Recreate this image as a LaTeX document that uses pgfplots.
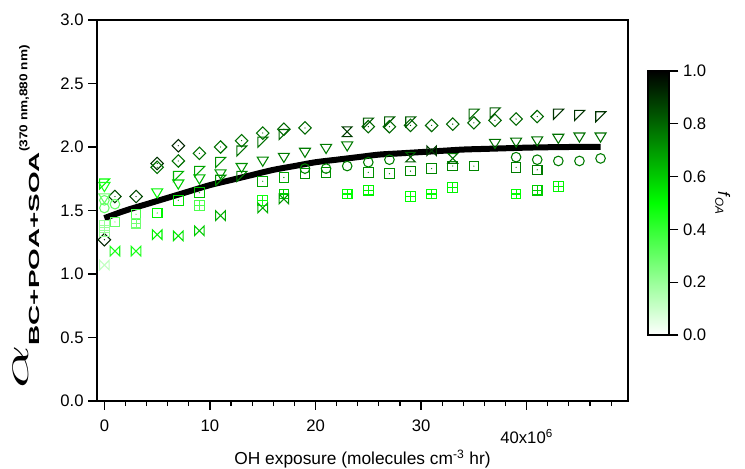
\documentclass[border=0pt]{standalone}
\usepackage{fontspec}
\setmainfont{Liberation Sans}
\usepackage{graphicx}
\usepackage{pgfplots}
\pgfplotsset{compat=1.18}

% open marks of the figure
\pgfdeclareplotmark{ddiamond}{%
  \pgfpathmoveto{\pgfqpoint{0pt}{1.3\pgfplotmarksize}}%
  \pgfpathlineto{\pgfqpoint{1.3\pgfplotmarksize}{0pt}}%
  \pgfpathlineto{\pgfqpoint{0pt}{-1.3\pgfplotmarksize}}%
  \pgfpathlineto{\pgfqpoint{-1.3\pgfplotmarksize}{0pt}}%
  \pgfpathclose\pgfusepathqstroke
  \pgfpathcircle{\pgfpointorigin}{0.5pt}\pgfusepathqfill}
\pgfdeclareplotmark{dsquare}{%
  \pgfpathrectangle{\pgfqpoint{-\pgfplotmarksize}{-\pgfplotmarksize}}{\pgfqpoint{2\pgfplotmarksize}{2\pgfplotmarksize}}%
  \pgfusepathqstroke
  \pgfpathcircle{\pgfpointorigin}{0.5pt}\pgfusepathqfill}
\pgfdeclareplotmark{psquare}{%
  \pgfpathrectangle{\pgfqpoint{-\pgfplotmarksize}{-\pgfplotmarksize}}{\pgfqpoint{2\pgfplotmarksize}{2\pgfplotmarksize}}%
  \pgfpathmoveto{\pgfqpoint{-\pgfplotmarksize}{0pt}}\pgfpathlineto{\pgfqpoint{\pgfplotmarksize}{0pt}}%
  \pgfpathmoveto{\pgfqpoint{0pt}{-\pgfplotmarksize}}\pgfpathlineto{\pgfqpoint{0pt}{\pgfplotmarksize}}%
  \pgfusepathqstroke}
\pgfdeclareplotmark{bowtie}{%
  \pgfpathmoveto{\pgfqpoint{-\pgfplotmarksize}{-\pgfplotmarksize}}%
  \pgfpathlineto{\pgfqpoint{-\pgfplotmarksize}{\pgfplotmarksize}}%
  \pgfpathlineto{\pgfqpoint{\pgfplotmarksize}{-\pgfplotmarksize}}%
  \pgfpathlineto{\pgfqpoint{\pgfplotmarksize}{\pgfplotmarksize}}%
  \pgfpathclose\pgfusepathqstroke}
\pgfdeclareplotmark{hourglass}{%
  \pgfpathmoveto{\pgfqpoint{-\pgfplotmarksize}{\pgfplotmarksize}}%
  \pgfpathlineto{\pgfqpoint{\pgfplotmarksize}{\pgfplotmarksize}}%
  \pgfpathlineto{\pgfqpoint{-\pgfplotmarksize}{-\pgfplotmarksize}}%
  \pgfpathlineto{\pgfqpoint{\pgfplotmarksize}{-\pgfplotmarksize}}%
  \pgfpathclose\pgfusepathqstroke}
\pgfdeclareplotmark{flag}{%
  \pgfpathmoveto{\pgfqpoint{-\pgfplotmarksize}{\pgfplotmarksize}}%
  \pgfpathlineto{\pgfqpoint{1.1\pgfplotmarksize}{\pgfplotmarksize}}%
  \pgfpathlineto{\pgfqpoint{-\pgfplotmarksize}{-1.1\pgfplotmarksize}}%
  \pgfpathclose\pgfusepathqstroke}
\pgfdeclareplotmark{tridown}{%
  \pgfpathmoveto{\pgfqpoint{-1.15\pgfplotmarksize}{0.8\pgfplotmarksize}}%
  \pgfpathlineto{\pgfqpoint{1.15\pgfplotmarksize}{0.8\pgfplotmarksize}}%
  \pgfpathlineto{\pgfqpoint{0pt}{-1.1\pgfplotmarksize}}%
  \pgfpathclose\pgfusepathqstroke}

\pgfplotsset{
  colormap={wgk}{rgb255(0cm)=(255,255,255); rgb255(5cm)=(0,255,0); rgb255(10cm)=(0,0,0)},
  foa/.style={scatter, only marks, point meta=explicit, mark=#1, mark size=3.6pt,
    scatter/use mapped color={draw=mapped color, fill=mapped color},
    every mark/.append style={line width=0.8pt}},
  ticks12/.style={
    every tick/.style={black, line width=0.9pt},
    tick align=outside,
    /pgf/number format/assume math mode=true,
    tick label style={font=\fontsize{12.5}{14}\selectfont},
    yticklabel style={/pgf/number format/.cd, fixed, fixed zerofill, precision=1}},
}

\begin{document}
\begin{tikzpicture}
\useasboundingbox (-72.75pt,-50.25pt) rectangle (486pt,300.75pt);
\begin{axis}[
  at={(0,0)}, anchor=south west,
  scale only axis, width=398.25pt, height=285.75pt,
  xmin=-0.7, xmax=49.6, ymin=0, ymax=3,
  clip=false,
  axis line style={line width=0.9pt},
  ticks12,
  xtick pos=bottom, ytick pos=left,
  major tick length=6.5pt, minor tick length=3.8pt,
  xtick={0,10,20,30,40},
  xticklabels={0,10,20,30,{\raisebox{-9pt}[9pt][0pt]{40x10\textsuperscript{6}}}},
  xticklabel shift=4pt,
  minor xtick={0,2,...,48},
  ytick={0,0.5,1,1.5,2,2.5,3},
  point meta min=0, point meta max=1,
  xlabel={OH exposure (molecules cm\textsuperscript{-3} hr)},
  xlabel style={font=\fontsize{13}{15}\selectfont},
  xlabel shift=7pt,
  ylabel={\scalebox{2.5}[1.3]{\fontsize{20}{20}\selectfont$\alpha$}\raisebox{-8.25pt}{\fontsize{11}{11}\selectfont\bfseries\scalebox{1.9}[1]{BC+POA+SOA}}\raisebox{0.5pt}{\fontsize{8.5}{8.5}\selectfont\bfseries\scalebox{1.2}[1]{(370 nm,880 nm)}}},
  ylabel shift=9pt,
  ylabel style={xshift=-5pt},
]
% diamonds with dot
\addplot[foa=ddiamond] coordinates {
  (0,1.27)[0.93] (1,1.61)[0.86] (3,1.61)[0.86] (5,1.87)[0.9] (5,1.84)[0.78]
  (7,2.01)[0.93] (7,1.89)[0.78] (9,1.95)[0.78] (11,2.00)[0.78] (13,2.05)[0.78]
  (15,2.11)[0.78] (17,2.14)[0.8] (19,2.15)[0.8] (25,2.16)[0.8] (27,2.16)[0.8]
  (29,2.17)[0.8] (31,2.17)[0.8] (33,2.18)[0.8] (35,2.19)[0.8] (37,2.21)[0.8]
  (39,2.22)[0.8] (41,2.24)[0.8]
};
% flags
\addplot[foa=flag] coordinates {
  (0,1.71)[0.5] (7,1.77)[0.65] (9,1.81)[0.68] (11,1.88)[0.72] (11,1.74)[0.72]
  (13,1.97)[0.78] (13,1.77)[0.75] (15,2.04)[0.78] (17,2.10)[0.8]
  (25,2.19)[0.82] (27,2.20)[0.82] (29,2.20)[0.82] (35,2.26)[0.8] (37,2.27)[0.82]
  (43,2.26)[0.9] (45,2.25)[0.9] (47,2.24)[0.9]
};
% down triangles
\addplot[foa=tridown] coordinates {
  (0,1.60)[0.3] (0,1.69)[0.45] (5,1.64)[0.52] (7,1.71)[0.6] (9,1.75)[0.65]
  (11,1.79)[0.7] (13,1.84)[0.72] (15,1.89)[0.74] (17,1.92)[0.76] (19,1.96)[0.76]
  (21,1.99)[0.76] (23,2.01)[0.76] (37,2.03)[0.78] (39,2.04)[0.78] (41,2.05)[0.78]
  (43,2.07)[0.78] (45,2.08)[0.78] (47,2.08)[0.78]
};
% circles
\addplot[foa=o] coordinates {
  (0,1.58)[0.3] (0,1.52)[0.3] (1,1.55)[0.3] (19,1.83)[0.74] (21,1.83)[0.74]
  (23,1.85)[0.75] (25,1.88)[0.75] (27,1.90)[0.75] (39,1.92)[0.76] (41,1.90)[0.76]
  (43,1.89)[0.76] (45,1.89)[0.76] (47,1.91)[0.76]
};
% squares with dot
\addplot[foa=dsquare] coordinates {
  (1,1.41)[0.3] (3,1.47)[0.35] (5,1.48)[0.52] (7,1.58)[0.56] (9,1.64)[0.62]
  (15,1.73)[0.68] (17,1.76)[0.68] (19,1.79)[0.72] (21,1.80)[0.72] (25,1.80)[0.72]
  (27,1.79)[0.72] (29,1.81)[0.74] (31,1.83)[0.74] (33,1.85)[0.74] (35,1.85)[0.74]
  (39,1.84)[0.76] (41,1.82)[0.76]
};
% squares with cross
\addplot[foa=psquare] coordinates {
  (0,1.38)[0.2] (0,1.33)[0.2] (3,1.40)[0.28] (9,1.54)[0.35] (15,1.58)[0.47]
  (17,1.63)[0.6] (23,1.63)[0.5] (25,1.66)[0.52] (29,1.61)[0.5] (31,1.63)[0.5]
  (33,1.68)[0.52] (39,1.63)[0.5] (41,1.66)[0.6] (43,1.69)[0.52]
};
% bowties
\addplot[foa=bowtie] coordinates {
  (0,1.07)[0.12] (1,1.18)[0.45] (3,1.18)[0.45] (5,1.31)[0.52] (7,1.30)[0.55]
  (9,1.34)[0.6] (11,1.46)[0.66] (15,1.52)[0.66] (17,1.59)[0.7] (31,1.97)[0.88]
};
% hourglasses
\addplot[foa=hourglass] coordinates {
  (23,2.12)[0.88] (29,1.92)[0.82] (33,1.91)[0.78]
};
% fit
\addplot[black, line width=4.5pt, smooth] coordinates {
  (0,1.44) (2,1.50) (4,1.55) (6,1.60) (8,1.65) (10,1.70) (12,1.74) (14,1.78)
  (16,1.82) (18,1.85) (20,1.88) (22,1.90) (24,1.92) (26,1.94) (28,1.95) (30,1.96)
  (32,1.97) (34,1.98) (36,1.985) (38,1.99) (40,1.995) (42,1.998) (44,2.0) (47,2.0)
};
\end{axis}
% colour scale for f_OA
\begin{axis}[
  at={(413.25pt,49.5pt)}, anchor=south west,
  scale only axis, width=15.75pt, height=198pt,
  xmin=0, xmax=1, ymin=0, ymax=1,
  axis on top,
  axis line style={line width=0.8pt},
  ticks12,
  xtick=\empty,
  ytick={0,0.2,0.4,0.6,0.8,1},
  ytick pos=right, yticklabel pos=right,
  major tick length=7pt,
  point meta min=0, point meta max=1,
  ylabel={\textit{f}\textsubscript{\textit{OA}}},
  ylabel style={rotate=180, font=\fontsize{12.5}{14}\selectfont},
]
\addplot[surf, shader=interp, point meta=y, mesh/cols=2] coordinates {
  (0,0) (1,0) (0,0.1) (1,0.1) (0,0.2) (1,0.2) (0,0.3) (1,0.3)
  (0,0.4) (1,0.4) (0,0.5) (1,0.5) (0,0.6) (1,0.6) (0,0.7) (1,0.7)
  (0,0.8) (1,0.8) (0,0.9) (1,0.9) (0,1) (1,1)
};
\end{axis}
\end{tikzpicture}
\end{document}
